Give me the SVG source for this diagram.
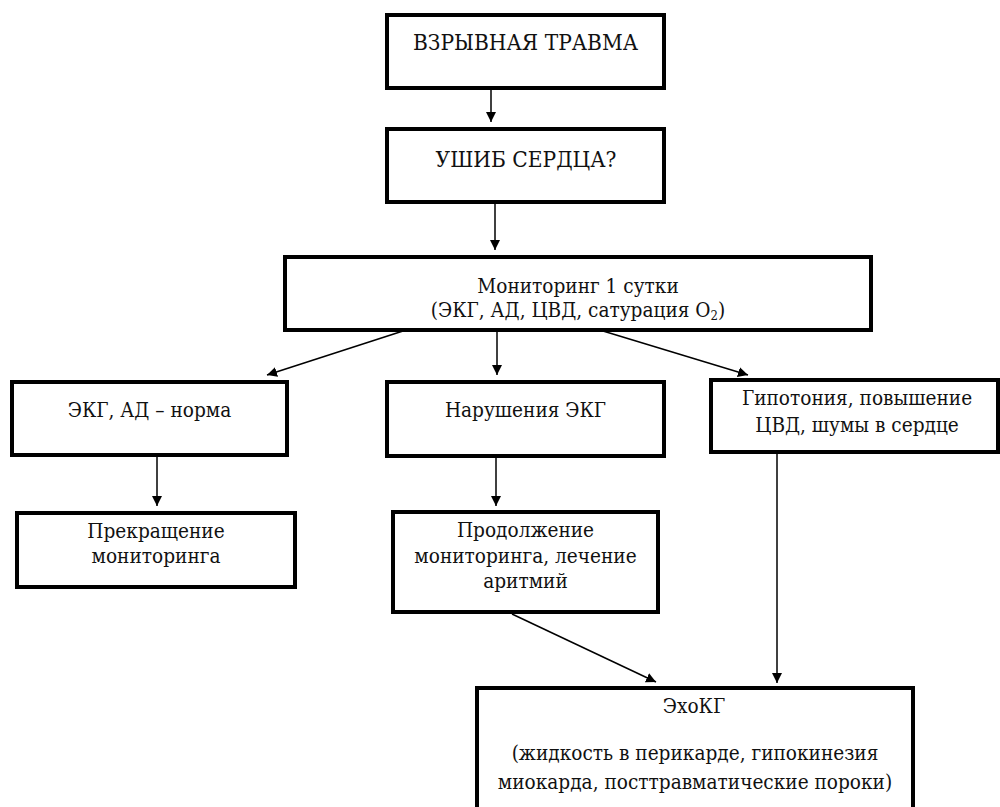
<svg xmlns="http://www.w3.org/2000/svg" width="1000" height="807" viewBox="0 0 1000 807">
  <defs>
    <marker id="arrow" viewBox="0 0 10 10" refX="10" refY="5" markerWidth="10" markerHeight="10" markerUnits="userSpaceOnUse" orient="auto">
      <path d="M0,0 L10,5 L0,10 Z" fill="#000"/>
    </marker>
    <style>
      .box { fill: #fff; stroke: #000; stroke-width: 4; }
      .lbl { font-family: "DejaVu Serif Condensed", "DejaVu Serif", serif; font-stretch: condensed; font-size: 20.6px; fill: #111; text-anchor: middle; }
      .caps { font-size: 22.5px; }
      .link { stroke: #000; stroke-width: 1.5; fill: none; marker-end: url(#arrow); }
    </style>
  </defs>
  <rect width="1000" height="807" fill="#fff"/>

  <g id="connectors">
    <line class="link" x1="491" y1="90" x2="491" y2="122"/>
    <line class="link" x1="495" y1="204" x2="495" y2="250"/>
    <line class="link" x1="403" y1="331" x2="267" y2="375"/>
    <line class="link" x1="497" y1="331" x2="497" y2="375"/>
    <line class="link" x1="603" y1="331" x2="748" y2="375"/>
    <line class="link" x1="157" y1="457" x2="157" y2="506"/>
    <line class="link" x1="496" y1="458" x2="496" y2="506"/>
    <line class="link" x1="512" y1="614" x2="656" y2="682"/>
    <line class="link" x1="777" y1="454" x2="777" y2="683"/>
  </g>

  <g id="blast-trauma">
    <rect class="box" x="387" y="15" width="277" height="73"/>
    <text class="lbl caps" x="525.5" y="50">ВЗРЫВНАЯ ТРАВМА</text>
  </g>

  <g id="heart-contusion">
    <rect class="box" x="387" y="129" width="277" height="73"/>
    <text class="lbl caps" x="526" y="167">УШИБ СЕРДЦА?</text>
  </g>

  <g id="monitoring">
    <rect class="box" x="285" y="257" width="586" height="73"/>
    <text class="lbl" x="578" y="293">Мониторинг 1 сутки</text>
    <text class="lbl" x="578" y="317">(ЭКГ, АД, ЦВД, сатурация O<tspan font-size="13" dy="3">2</tspan><tspan dy="-3">)</tspan></text>
  </g>

  <g id="normal">
    <rect class="box" x="12" y="382" width="275" height="73"/>
    <text class="lbl" x="149.5" y="417">ЭКГ, АД – норма</text>
  </g>

  <g id="ecg-disorders">
    <rect class="box" x="387" y="382" width="277" height="74"/>
    <text class="lbl" x="525.5" y="417">Нарушения ЭКГ</text>
  </g>

  <g id="hypotension">
    <rect class="box" x="711" y="380" width="287" height="72"/>
    <text class="lbl" x="857" y="405">Гипотония, повышение</text>
    <text class="lbl" x="857" y="432">ЦВД, шумы в сердце</text>
  </g>

  <g id="stop-monitoring">
    <rect class="box" x="17" y="513" width="278" height="74"/>
    <text class="lbl" x="156" y="538">Прекращение</text>
    <text class="lbl" x="156" y="563">мониторинга</text>
  </g>

  <g id="continue-monitoring">
    <rect class="box" x="393" y="512" width="265" height="100"/>
    <text class="lbl" x="525.5" y="537">Продолжение</text>
    <text class="lbl" x="525.5" y="563">мониторинга, лечение</text>
    <text class="lbl" x="525.5" y="588">аритмий</text>
  </g>

  <g id="echo">
    <rect class="box" x="477" y="688" width="436" height="124"/>
    <text class="lbl" x="694" y="713">ЭхоКГ</text>
    <text class="lbl" x="695" y="760">(жидкость в перикарде, гипокинезия</text>
    <text class="lbl" x="695" y="789">миокарда, посттравматические пороки)</text>
  </g>
</svg>
